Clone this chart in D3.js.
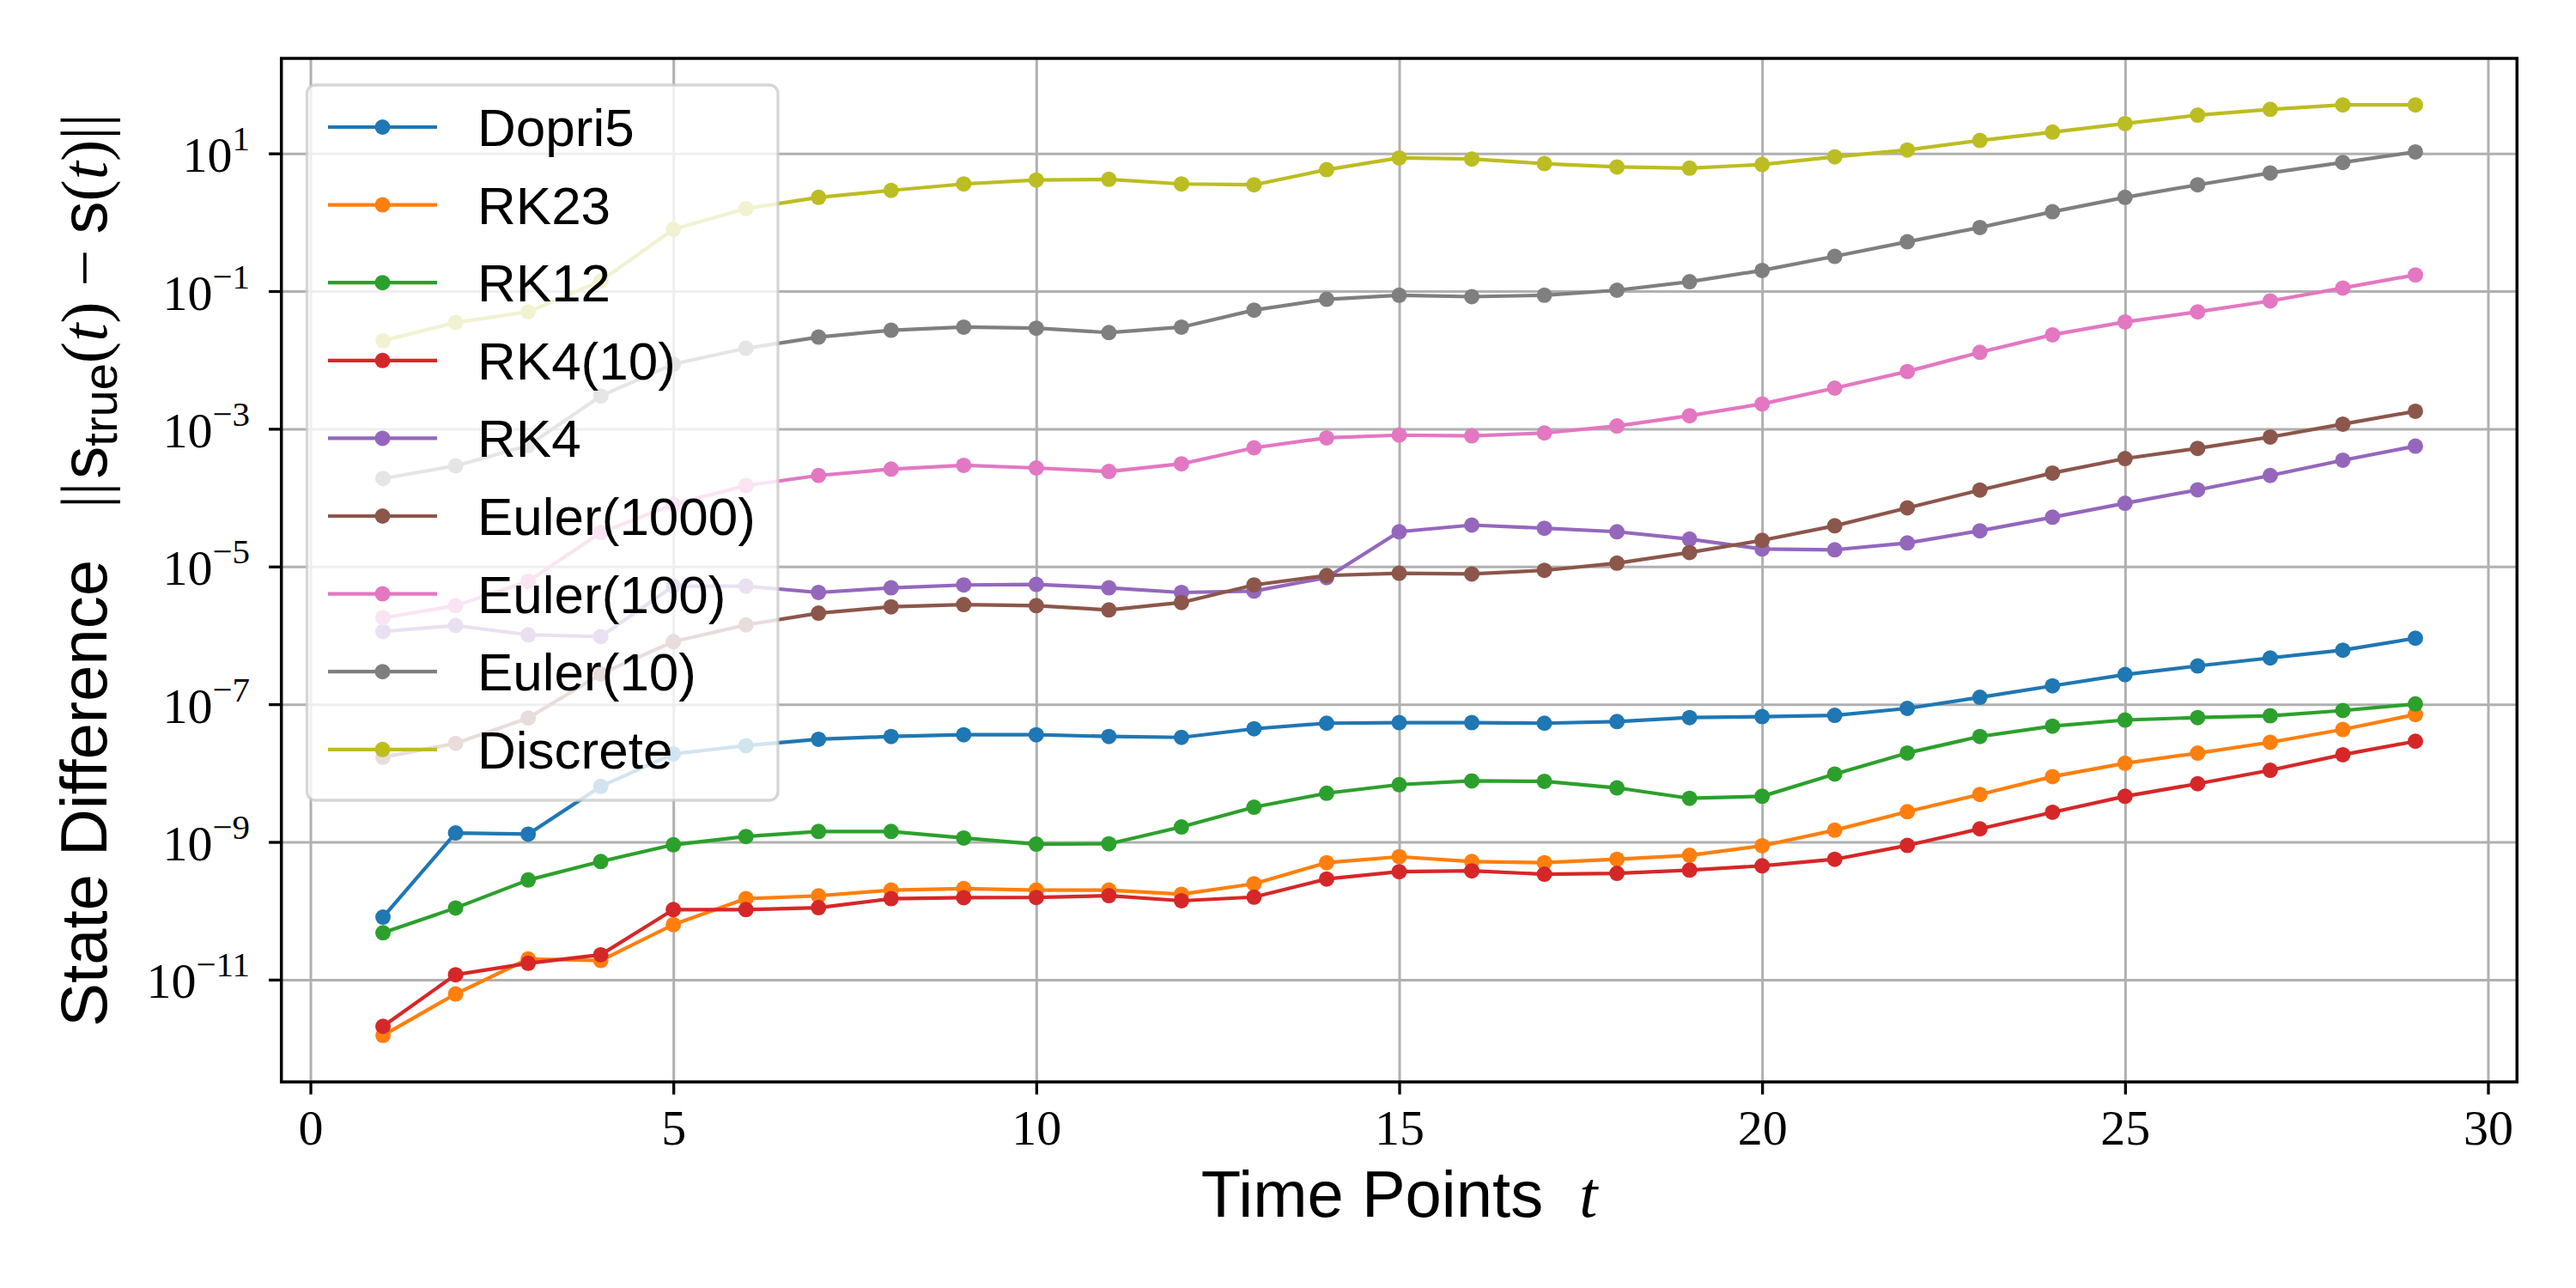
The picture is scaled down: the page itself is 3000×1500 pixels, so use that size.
<!DOCTYPE html>
<html>
<head>
<meta charset="utf-8">
<script src="https://cdn.jsdelivr.net/npm/d3@7"></script>
<style>
  html, body { margin: 0; padding: 0; background: #fff; }
  svg { display: block; }
</style>
</head>
<body>
<div id="chart"></div>
<script>
/* ============================================================
   State difference vs. time points — log-scale line chart
   ============================================================ */

const timePoints = [1, 2, 3, 4, 5, 6, 7, 8, 9, 10, 11, 12, 13, 14, 15,
  16, 17, 18, 19, 20, 21, 22, 23, 24, 25, 26, 27, 28, 29];

const dopri5 = [8.1e-11, 1.35e-9, 1.3e-9, 6.4e-9, 1.9e-8, 2.5e-8, 3.1e-8, 3.4e-8, 3.6e-8, 3.6e-8,
  3.4e-8, 3.3e-8, 4.4e-8, 5.3e-8, 5.4e-8, 5.4e-8, 5.3e-8, 5.6e-8, 6.4e-8, 6.6e-8,
  6.9e-8, 8.7e-8, 1.26e-7, 1.85e-7, 2.7e-7, 3.6e-7, 4.7e-7, 6.1e-7, 9.1e-7];

const rk23 = [1.55e-12, 6.2e-12, 2.0e-11, 1.9e-11, 6.3e-11, 1.5e-10, 1.65e-10, 2.0e-10, 2.1e-10, 2.0e-10,
  2.0e-10, 1.74e-10, 2.47e-10, 5.0e-10, 6.1e-10, 5.2e-10, 5.0e-10, 5.6e-10, 6.4e-10, 8.8e-10,
  1.48e-9, 2.75e-9, 4.9e-9, 8.9e-9, 1.39e-8, 1.95e-8, 2.8e-8, 4.3e-8, 7.1e-8];

const rk12 = [4.8e-11, 1.1e-10, 2.8e-10, 5.2e-10, 9.1e-10, 1.2e-9, 1.42e-9, 1.42e-9, 1.14e-9, 9.3e-10,
  9.4e-10, 1.65e-9, 3.2e-9, 5.1e-9, 6.8e-9, 7.7e-9, 7.6e-9, 6.1e-9, 4.3e-9, 4.6e-9,
  9.7e-9, 1.96e-8, 3.4e-8, 4.8e-8, 5.9e-8, 6.4e-8, 6.8e-8, 8.1e-8, 1.01e-7];

const rk4_10 = [2.1e-12, 1.18e-11, 1.73e-11, 2.3e-11, 1.04e-10, 1.04e-10, 1.11e-10, 1.5e-10, 1.55e-10, 1.56e-10,
  1.66e-10, 1.4e-10, 1.58e-10, 2.9e-10, 3.7e-10, 3.8e-10, 3.4e-10, 3.5e-10, 3.9e-10, 4.5e-10,
  5.6e-10, 8.9e-10, 1.55e-9, 2.7e-9, 4.6e-9, 7.0e-9, 1.1e-8, 1.85e-8, 2.9e-8];

const rk4 = [1.14e-6, 1.39e-6, 1.02e-6, 0.96e-6, 5.2e-6, 5.2e-6, 4.2e-6, 4.9e-6, 5.4e-6, 5.5e-6,
  4.9e-6, 4.2e-6, 4.4e-6, 6.9e-6, 3.2e-5, 4.0e-5, 3.6e-5, 3.2e-5, 2.5e-5, 1.8e-5,
  1.75e-5, 2.2e-5, 3.3e-5, 5.2e-5, 8.3e-5, 1.3e-4, 2.1e-4, 3.5e-4, 5.6e-4];

const euler1000 = [1.7e-8, 2.7e-8, 6.3e-8, 2.75e-7, 8.1e-7, 1.42e-6, 2.1e-6, 2.6e-6, 2.8e-6, 2.7e-6,
  2.34e-6, 3.0e-6, 5.4e-6, 7.4e-6, 8.0e-6, 7.8e-6, 8.8e-6, 1.12e-5, 1.6e-5, 2.4e-5,
  3.9e-5, 7.1e-5, 1.29e-4, 2.28e-4, 3.7e-4, 5.2e-4, 7.6e-4, 1.17e-3, 1.8e-3];

const euler100 = [1.8e-6, 2.7e-6, 6.1e-6, 3.1e-5, 8.0e-5, 1.5e-4, 2.1e-4, 2.6e-4, 2.95e-4, 2.7e-4,
  2.4e-4, 3.1e-4, 5.3e-4, 7.4e-4, 8.1e-4, 7.9e-4, 8.7e-4, 1.1e-3, 1.55e-3, 2.3e-3,
  3.9e-3, 6.8e-3, 1.29e-2, 2.32e-2, 3.57e-2, 5.0e-2, 7.2e-2, 0.111, 0.172];

const euler10 = [1.9e-4, 2.9e-4, 5.7e-4, 3.0e-3, 8.7e-3, 1.48e-2, 2.15e-2, 2.7e-2, 3.0e-2, 2.9e-2,
  2.5e-2, 3.0e-2, 5.3e-2, 7.6e-2, 8.7e-2, 8.3e-2, 8.7e-2, 0.103, 0.137, 0.2,
  0.32, 0.52, 0.84, 1.42, 2.3, 3.5, 5.2, 7.4, 10.5];

const discrete = [0.019, 0.035, 0.05, 0.14, 0.79, 1.58, 2.3, 2.9, 3.6, 4.1,
  4.2, 3.6, 3.5, 5.8, 8.6, 8.3, 7.1, 6.35, 6.1, 6.9,
  8.9, 11.2, 15.4, 20.4, 27.1, 36, 43.7, 50.6, 50.6];

const seriesNames = ['Dopri5', 'RK23', 'RK12', 'RK4(10)', 'RK4', 'Euler(1000)', 'Euler(100)', 'Euler(10)', 'Discrete'];
const seriesValues = [dopri5, rk23, rk12, rk4_10, rk4, euler1000, euler100, euler10, discrete];

const xTickValues = [0, 5, 10, 15, 20, 25, 30];
const yTickExponents = [1, -1, -3, -5, -7, -9, -11];

(() => {
  const width = 3000, height = 1500;
  const margin = { top: 68, right: 68.7, bottom: 240, left: 327.7 };
  const colors = d3.schemeCategory10;

  const serif = '"Liberation Serif", "Times New Roman", serif';
  const sans = '"Liberation Sans", Arial, Helvetica, sans-serif';

  const series = seriesNames.map((name, i) => ({
    name,
    color: colors[i],
    points: timePoints.map((t, j) => ({ t, v: seriesValues[i][j] }))
  }));

  // matplotlib-like 5% margins (log space on y)
  const xExt = d3.extent(timePoints);
  const xPad = (xExt[1] - xExt[0]) * 0.05;
  const allVals = seriesValues.flat();
  const lo = Math.log10(d3.min(allVals)), hi = Math.log10(d3.max(allVals));
  const yPad = (hi - lo) * 0.05;

  const x = d3.scaleLinear()
    .domain([xExt[0] - xPad, xExt[1] + xPad])
    .range([margin.left, width - margin.right]);

  const y = d3.scaleLog()
    .domain([Math.pow(10, lo - yPad), Math.pow(10, hi + yPad)])
    .range([height - margin.bottom, margin.top]);

  const svg = d3.select('#chart')
    .append('svg')
    .attr('width', width)
    .attr('height', height);

  svg.append('rect').attr('width', width).attr('height', height).attr('fill', '#fff');

  const plotH = height - margin.top - margin.bottom;
  const plotW = width - margin.left - margin.right;
  const yTicks = yTickExponents.map(e => Math.pow(10, e));

  // Grid
  svg.append('g')
    .attr('transform', `translate(0,${height - margin.bottom})`)
    .call(d3.axisBottom(x).tickValues(xTickValues).tickSize(-plotH).tickFormat(''))
    .call(g => g.select('.domain').remove())
    .call(g => g.selectAll('.tick line').attr('stroke', '#b0b0b0').attr('stroke-width', 3));

  svg.append('g')
    .attr('transform', `translate(${margin.left},0)`)
    .call(d3.axisLeft(y).tickValues(yTicks).tickSize(-plotW).tickFormat(''))
    .call(g => g.select('.domain').remove())
    .call(g => g.selectAll('.tick line').attr('stroke', '#b0b0b0').attr('stroke-width', 3));

  // Lines + markers
  const line = d3.line().x(d => x(d.t)).y(d => y(d.v));

  const groups = svg.selectAll('.series')
    .data(series)
    .join('g')
    .attr('class', 'series');

  groups.each(function (s) {
    const g = d3.select(this);
    g.append('path')
      .attr('d', line(s.points))
      .attr('fill', 'none')
      .attr('stroke', s.color)
      .attr('stroke-width', 4.2)
      .attr('stroke-linejoin', 'round');
    g.selectAll('circle')
      .data(s.points)
      .join('circle')
      .attr('cx', d => x(d.t))
      .attr('cy', d => y(d.v))
      .attr('r', 9)
      .attr('fill', s.color);
  });

  // Axes
  const xAxis = svg.append('g')
    .attr('transform', `translate(0,${height - margin.bottom})`)
    .call(d3.axisBottom(x).tickValues(xTickValues).tickSize(14.6).tickPadding(14).tickFormat(d3.format('d')));
  xAxis.select('.domain').remove();
  xAxis.selectAll('.tick line').attr('stroke', '#000').attr('stroke-width', 3.3);
  xAxis.selectAll('.tick text')
    .attr('y', 73).attr('dy', null)
    .attr('fill', '#000')
    .style('font-family', serif)
    .style('font-size', '58px');

  const yAxis = svg.append('g')
    .attr('transform', `translate(${margin.left},0)`)
    .call(d3.axisLeft(y).tickValues(yTicks).tickSize(14.6).tickPadding(22).tickFormat(''));
  yAxis.select('.domain').remove();
  yAxis.selectAll('.tick line').attr('stroke', '#000').attr('stroke-width', 3.3);
  yAxis.selectAll('.tick text')
    .attr('dy', null)
    .attr('y', 21)
    .attr('fill', '#000')
    .style('font-family', serif)
    .style('font-size', '58px')
    .each(function (d) {
      const t = d3.select(this);
      const e = Math.round(Math.log10(d));
      t.append('tspan').text('10');
      t.append('tspan')
        .attr('dy', -25)
        .style('font-size', '41px')
        .text(e < 0 ? '\u2212' + Math.abs(e) : String(e));
    });

  // Spines
  svg.append('rect')
    .attr('x', margin.left)
    .attr('y', margin.top)
    .attr('width', plotW)
    .attr('height', plotH)
    .attr('fill', 'none')
    .attr('stroke', '#000')
    .attr('stroke-width', 3.5);

  // Axis labels
  const xLabel = svg.append('text')
    .attr('x', margin.left + plotW / 2)
    .attr('y', 1417)
    .attr('text-anchor', 'middle')
    .style('font-family', sans)
    .style('font-size', '76px')
    .attr('fill', '#000');
  xLabel.append('tspan').text('Time Points');
  xLabel.append('tspan')
    .attr('dx', 42)
    .style('font-family', serif)
    .style('font-style', 'italic')
    .text('t');

  const yLabel = svg.append('text')
    .attr('transform', `translate(124,${margin.top + plotH / 2}) rotate(-90)`)
    .attr('text-anchor', 'middle')
    .style('font-family', sans)
    .style('font-size', '76px')
    .attr('fill', '#000');
  yLabel.append('tspan').text('State Difference');
  yLabel.append('tspan').attr('dx', 60).style('font-family', serif).text('||');
  yLabel.append('tspan').attr('dx', 4).text('s');
  yLabel.append('tspan').attr('dy', 12).style('font-size', '56px').text('true');
  yLabel.append('tspan').attr('dy', -12).style('font-family', serif).text('(');
  yLabel.append('tspan').style('font-family', serif).style('font-style', 'italic').text('t');
  yLabel.append('tspan').style('font-family', serif).text(')');
  yLabel.append('tspan').attr('dx', 18).style('font-family', serif).text('\u2212');
  yLabel.append('tspan').attr('dx', 18).text('s');
  yLabel.append('tspan').style('font-family', serif).text('(');
  yLabel.append('tspan').style('font-family', serif).style('font-style', 'italic').text('t');
  yLabel.append('tspan').style('font-family', serif).text(')||');

  // Legend
  const legend = svg.append('g').attr('transform', 'translate(357.5,99)');
  legend.append('rect')
    .attr('width', 548.5)
    .attr('height', 833)
    .attr('rx', 10)
    .attr('fill', '#fff')
    .attr('fill-opacity', 0.8)
    .attr('stroke', '#cccccc')
    .attr('stroke-opacity', 0.8)
    .attr('stroke-width', 3.3);

  const rows = legend.selectAll('.legend-row')
    .data(series)
    .join('g')
    .attr('class', 'legend-row')
    .attr('transform', (d, i) => `translate(0,${49 + i * 90.6})`);

  rows.append('line')
    .attr('x1', 24.5).attr('x2', 151.5)
    .attr('stroke', d => d.color)
    .attr('stroke-width', 4.2);

  rows.append('circle')
    .attr('cx', 88)
    .attr('r', 9)
    .attr('fill', d => d.color);

  rows.append('text')
    .attr('x', 198.5)
    .attr('y', 22)
    .style('font-family', sans)
    .style('font-size', '62px')
    .attr('fill', '#000')
    .text(d => d.name);
})();
</script>
</body>
</html>
